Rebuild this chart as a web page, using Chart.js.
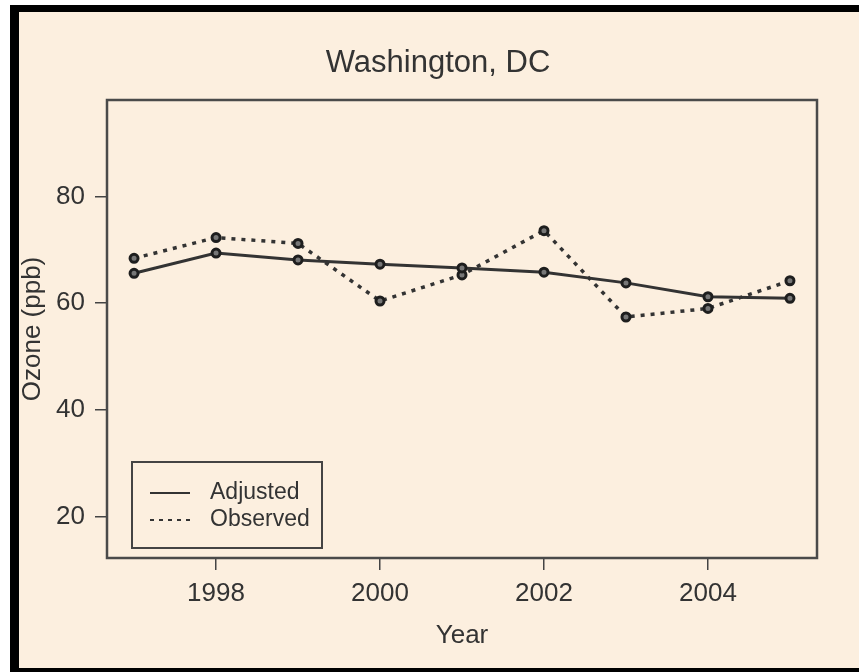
<!DOCTYPE html>
<html><head><meta charset="utf-8">
<script src="https://cdn.jsdelivr.net/npm/chart.js@4.4.0/dist/chart.umd.min.js"></script>
<style>html,body{margin:0;padding:0;background:#fff}#wrap{width:859px;height:672px}</style>
</head><body><div id="wrap"><canvas id="c" width="859" height="672"></canvas></div>
<script>
const chartTitle = 'Washington, DC';
const xTitle = 'Year';
const yTitle = 'Ozone (ppb)';
const years = [1997, 1998, 1999, 2000, 2001, 2002, 2003, 2004, 2005];
const adjusted = [65.6, 69.4, 68.1, 67.3, 66.6, 65.8, 63.8, 61.2, 60.9];
const observed = [68.4, 72.3, 71.2, 60.4, 65.3, 73.6, 57.4, 59.0, 64.2];
const xTicks = [1998, 2000, 2002, 2004];
const yTicks = [20, 40, 60, 80];

const FONT = "'Liberation Sans', Arial, sans-serif";
const INK = '#333333';
const BG = '#FCEFDF';

const framePlugin = {
  id: 'frame',
  beforeDraw(chart) {
    const ctx = chart.ctx;
    ctx.save();
    ctx.fillStyle = '#ffffff';
    ctx.fillRect(0, 0, chart.width, chart.height);
    ctx.fillStyle = BG;
    ctx.fillRect(10, 5, chart.width - 10, chart.height - 5);
    ctx.fillStyle = '#000000';
    ctx.fillRect(10, 5, 9, chart.height - 5);
    ctx.fillRect(10, 5, chart.width - 10, 7);
    ctx.fillRect(10, 668, chart.width - 10, 4);
    // chart title
    ctx.fillStyle = INK;
    ctx.font = '31px ' + FONT;
    ctx.textAlign = 'center';
    ctx.textBaseline = 'middle';
    ctx.fillText(chartTitle, 438, 63);
    ctx.restore();
  },
  afterDraw(chart) {
    const ctx = chart.ctx;
    const a = chart.chartArea;
    ctx.save();
    ctx.strokeStyle = '#4a4a4a';
    ctx.lineWidth = 2.5;
    ctx.strokeRect(a.left, a.top, a.right - a.left, a.bottom - a.top);
    // legend inside the plot
    const lx = 132, ly = 462, lw = 190, lh = 86;
    ctx.strokeStyle = '#444';
    ctx.lineWidth = 2;
    ctx.strokeRect(lx, ly, lw, lh);
    const rows = [493, 520];
    chart.data.datasets.forEach((ds, i) => {
      const y = rows[i];
      ctx.beginPath();
      ctx.strokeStyle = '#333';
      ctx.lineWidth = 2;
      ctx.setLineDash(ds.borderDash && ds.borderDash.length ? [4, 5] : []);
      ctx.moveTo(150, y);
      ctx.lineTo(190, y);
      ctx.stroke();
      ctx.setLineDash([]);
      ctx.fillStyle = INK;
      ctx.font = '23px ' + FONT;
      ctx.textBaseline = 'middle';
      ctx.textAlign = 'left';
      ctx.fillText(ds.label, 210, y);
    });
    ctx.restore();
  }
};

new Chart(document.getElementById('c'), {
  type: 'line',
  data: {
    datasets: [
      {
        label: 'Adjusted',
        data: years.map((y, i) => ({x: y, y: adjusted[i]})),
        borderColor: '#333',
        borderWidth: 3,
        pointRadius: 4,
        pointBorderWidth: 3,
        pointBackgroundColor: '#777',
        pointBorderColor: '#1e1e1e',
        tension: 0
      },
      {
        label: 'Observed',
        data: years.map((y, i) => ({x: y, y: observed[i]})),
        borderColor: '#333',
        borderWidth: 3.5,
        borderDash: [4, 6],
        pointRadius: 4,
        pointBorderWidth: 3,
        pointBackgroundColor: '#777',
        pointBorderColor: '#1e1e1e',
        tension: 0
      }
    ]
  },
  options: {
    responsive: false,
    devicePixelRatio: 1,
    animation: false,
    layout: {padding: {left: 16, right: 42, top: 100, bottom: 0}},
    plugins: {
      legend: {display: false},
      tooltip: {enabled: false},
      title: {display: false}
    },
    scales: {
      x: {
        type: 'linear',
        min: 1996.67,
        max: 2005.33,
        afterBuildTicks: s => { s.ticks = xTicks.map(v => ({value: v})); },
        afterFit: s => { s.height = 114; },
        grid: {drawOnChartArea: false, drawTicks: true, tickLength: 12, color: '#444', lineWidth: 1.5},
        border: {display: false},
        ticks: {color: INK, font: {family: FONT, size: 26}, padding: 8, maxRotation: 0, callback: v => String(v)},
        title: {display: true, text: xTitle, color: INK, font: {family: FONT, size: 26, lineHeight: 1.2}, padding: {top: 21, bottom: 21}}
      },
      y: {
        type: 'linear',
        min: 12.2,
        max: 98.1,
        afterBuildTicks: s => { s.ticks = yTicks.map(v => ({value: v})); },
        afterFit: s => { s.width = 91; },
        grid: {drawOnChartArea: false, drawTicks: true, tickLength: 12, color: '#444', lineWidth: 1.5},
        border: {display: false},
        ticks: {color: INK, font: {family: FONT, size: 26}, padding: 10},
        title: {display: true, text: yTitle, color: INK, font: {family: FONT, size: 26, lineHeight: 1.2}, padding: {top: 1, bottom: 0}}
      }
    }
  },
  plugins: [framePlugin]
});
</script>
</body></html>
